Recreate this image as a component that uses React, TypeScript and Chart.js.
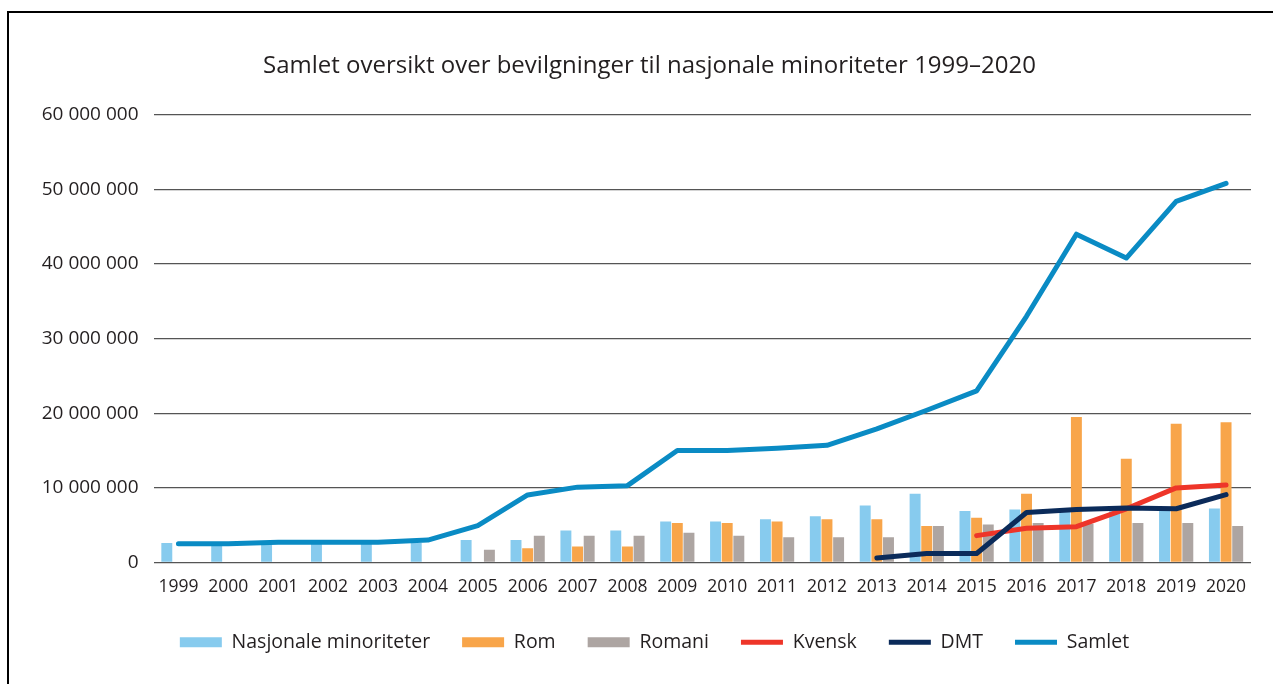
import React, { useEffect, useRef } from "react";
import { Chart, registerables } from "chart.js";

Chart.register(...registerables);

const years = ["1999","2000","2001","2002","2003","2004","2005","2006","2007","2008","2009","2010","2011","2012","2013","2014","2015","2016","2017","2018","2019","2020"];
const yTicks = [0, 10000000, 20000000, 30000000, 40000000, 50000000, 60000000];

const nasjonale = [2600000,2600000,2600000,2600000,2600000,2600000,3000000,3000000,4300000,4300000,5500000,5500000,5800000,6200000,7650000,9200000,6900000,7100000,7000000,7000000,7000000,7250000];
const rom = [null,null,null,null,null,null,null,1900000,2150000,2150000,5300000,5300000,5500000,5800000,5800000,4900000,6000000,9200000,19500000,13900000,18600000,18800000];
const romani = [null,null,null,null,null,null,1700000,3600000,3600000,3600000,4000000,3600000,3400000,3400000,3400000,4900000,5100000,5300000,5200000,5300000,5300000,4900000];
const kvensk = [null,null,null,null,null,null,null,null,null,null,null,null,null,null,null,null,3600000,4600000,4800000,7200000,10000000,10400000];
const dmt = [null,null,null,null,null,null,null,null,null,null,null,null,null,null,600000,1200000,1200000,6700000,7100000,7300000,7200000,9100000];
const samlet = [2500000,2500000,2700000,2700000,2700000,3000000,4950000,9050000,10100000,10300000,15000000,15000000,15300000,15700000,17900000,20400000,23000000,33000000,44000000,40800000,48400000,50800000];

const FONT = "'Open Sans', sans-serif";
const TEXT = "#231F20";

function fmt(v: number): string {
  return String(v).replace(/\B(?=(\d{3})+(?!\d))/g, " ");
}

const shiftPlugin = {
  id: "shiftBlocks",
  afterLayout(chart: any) {
    if (chart.titleBlock) {
      chart.titleBlock.left = 48;
    }
    const lg = chart.legend;
    if (lg) {
      lg.top -= 11;
      lg.bottom -= 11;
      lg.left += 29;
      lg.right += 29;
    }
  },
};

export default function App() {
  const ref = useRef<HTMLCanvasElement | null>(null);
  useEffect(() => {
    if (!ref.current) return;
    const lineDs = (label: string, data: (number | null)[], color: string, order: number) => ({
      type: "line" as const,
      label,
      data,
      borderColor: color,
      backgroundColor: color,
      borderWidth: 5,
      pointRadius: 0,
      pointHoverRadius: 0,
      pointStyle: "line",
      borderCapStyle: "round" as const,
      borderJoinStyle: "round" as const,
      tension: 0,
      fill: false,
      order,
    });
    const barDs = (label: string, data: (number | null)[], color: string) => ({
      type: "bar" as const,
      label,
      data,
      backgroundColor: color,
      borderWidth: 0,
      pointStyle: "rect",
      barPercentage: 0.94,
      categoryPercentage: 0.7,
      order: 10,
    });
    const chart = new Chart(ref.current, {
      type: "bar",
      data: {
        labels: years,
        datasets: [
          barDs("Nasjonale minoriteter", nasjonale, "#87CBEE"),
          barDs("Rom", rom, "#F8A54A"),
          barDs("Romani", romani, "#ADA5A2"),
          lineDs("Kvensk", kvensk, "#EE3529", 2),
          lineDs("DMT", dmt, "#0B2B5A", 1),
          lineDs("Samlet", samlet, "#0A8BC4", 0),
        ] as any,
      },
      plugins: [shiftPlugin],
      options: {
        responsive: false,
        animation: false,
        devicePixelRatio: 1,
        layout: { padding: { left: 0, right: 22, top: 0, bottom: 11 } },
        plugins: {
          title: {
            display: true,
            text: "Samlet oversikt over bevilgninger til nasjonale minoriteter 1999–2020",
            color: TEXT,
            font: { family: FONT, size: 24, weight: "normal" },
            padding: { top: 52, bottom: 34 },
          },
          legend: {
            position: "bottom",
            labels: {
              usePointStyle: true,
              pointStyleWidth: 42,
              boxHeight: 10,
              padding: 32,
              color: TEXT,
              font: { family: FONT, size: 19.5 },
              sort: (a: any, b: any) => a.datasetIndex - b.datasetIndex,
            },
          },
          tooltip: { enabled: false },
        },
        scales: {
          x: {
            grid: { display: false, drawTicks: false },
            border: { display: false },
            ticks: { color: TEXT, font: { family: FONT, size: 17.5 }, padding: 14, maxRotation: 0, autoSkip: false },
          },
          y: {
            min: 0,
            max: 60000000,
            afterFit: (s: any) => { s.width = 153.5; },
            afterBuildTicks: (s: any) => { s.ticks = yTicks.map((v) => ({ value: v })); },
            grid: { color: "#555555", lineWidth: 1.3, drawTicks: false },
            border: { display: false },
            ticks: { color: TEXT, font: { family: FONT, size: 19 }, padding: 15, callback: (v: any) => fmt(Number(v)) },
          },
        },
      } as any,
    });
    return () => chart.destroy();
  }, []);
  return (
    <div style={{ position: "fixed", left: 0, top: 0, width: 1273, height: 684, background: "#fff" }}>
      <canvas ref={ref} width={1273} height={684} style={{ position: "absolute", left: 0, top: 0, width: 1273, height: 684 }} />
      <div style={{ position: "absolute", left: 7, top: 11, right: 0, bottom: 0, borderTop: "2.5px solid #000", borderLeft: "2.5px solid #000", pointerEvents: "none" }} />
    </div>
  );
}
